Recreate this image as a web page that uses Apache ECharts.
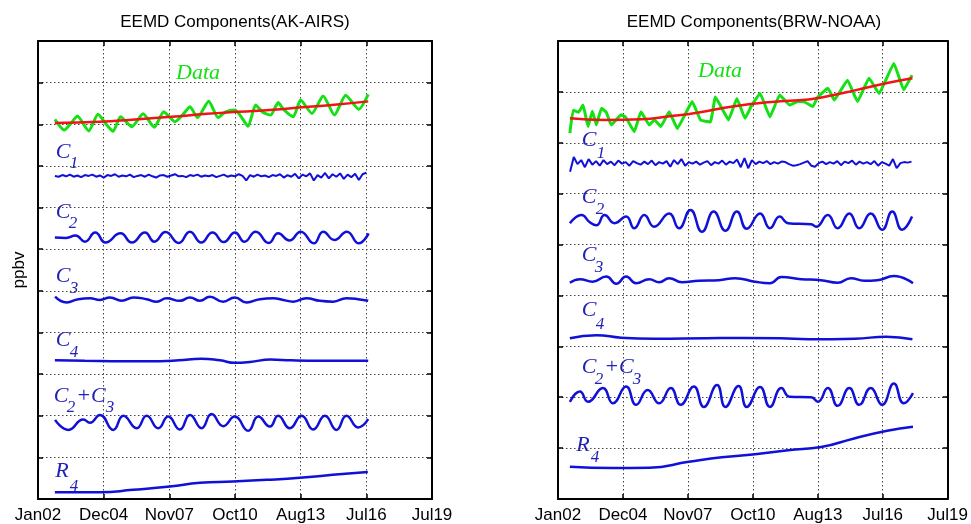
<!DOCTYPE html>
<html lang="en">
<head>
    <meta charset="UTF-8">
    <title>EEMD Components</title>
    <script src="https://cdn.jsdelivr.net/npm/echarts@6/dist/echarts.min.js"></script>
    <style>
        html, body { margin: 0; padding: 0; background: #fff; }
        #chart { width: 971px; height: 524px; }
    </style>
</head>
<body>
<div id="chart"></div>
<script>
    // x values are months counted from Jan 2002, y values are plot units (stacked components)
    var tickLabels = ['Jan02', 'Dec04', 'Nov07', 'Oct10', 'Aug13', 'Jul16', 'Jul19'];
    var TICK_STEP = 35;

    // ---------- AK-AIRS ----------
    var akData = [[9,9.12],[14,8.86],[18,9.05],[21,9.20],[27,8.84],[32,9.24],[36,9.02],[40,8.83],[44,9.18],[50,8.94],
        [56,9.25],[62,8.93],[67,9.30],[70,9.18],[73,9.06],[77,9.22],[81,9.42],[85,9.16],[91,9.55],[96,9.16],
        [100,9.30],[105,9.34],[108,9.20],[112,8.95],[116,9.46],[120,9.28],[124,9.22],[128,9.52],[131,9.35],[136,9.18],
        [140,9.58],[146,9.26],[152,9.68],[158,9.22],[164,9.70],[171,9.36],[176,9.72]];
    var akTrend = [[9,9.03],[33,9.06],[50,9.11],[71,9.18],[90,9.25],[107,9.30],[125,9.35],[139,9.40],[158,9.47],[176,9.55]];
    var akC1Start = 9;
    var akC1 = [7.76,7.74,7.78,7.75,7.79,7.74,7.77,7.73,7.78,7.76,
        7.79,7.74,7.77,7.72,7.78,7.76,7.80,7.74,7.77,7.75,
        7.79,7.73,7.76,7.78,7.74,7.79,7.75,7.72,7.77,7.78,
        7.74,7.77,7.80,7.75,7.76,7.73,7.78,7.76,7.79,7.74,
        7.77,7.75,7.78,7.73,7.76,7.79,7.74,7.77,7.75,7.80,
        7.76,7.65,7.78,7.74,7.79,7.75,7.77,7.73,7.78,7.76,
        7.80,7.72,7.78,7.74,7.81,7.70,7.79,7.75,7.82,7.65,
        7.78,7.72,7.83,7.70,7.80,7.74,7.82,7.69,7.79,7.73,
        7.81,7.66,7.80,7.84];
    var akC2 = [[9,6.28],[15,6.27],[20,6.33],[25,6.18],[30.5,6.40],[36,6.16],[44,6.38],[50,6.16],[57,6.40],[62,6.18],
        [68,6.41],[75,6.15],[81,6.42],[87,6.16],[93,6.40],[99,6.17],[105,6.40],[110,6.18],[116,6.42],[123,6.15],
        [128,6.38],[134,6.21],[140,6.42],[147,6.14],[152,6.42],[158,6.22],[164.6,6.42],[171,6.14],[176.2,6.38]];
    var akC3 = [[9.1,4.86],[15.3,4.72],[21.5,4.80],[27.7,4.82],[33,4.78],[38.4,4.84],[44.6,4.76],[50.8,4.84],[57.9,4.80],[63.2,4.74],
        [68.6,4.82],[75.6,4.76],[81,4.84],[86.3,4.76],[91.6,4.86],[98.7,4.74],[104.9,4.84],[111.2,4.72],[118.3,4.80],[125.3,4.82],
        [130.7,4.78],[136,4.74],[143.1,4.82],[150.2,4.76],[157.3,4.74],[164.4,4.82],[170.6,4.80],[176,4.76]];
    var akC4 = [[9,3.33],[25,3.32],[45,3.31],[65,3.31],[75,3.33],[87,3.37],[97,3.33],[105,3.27],[113,3.29],[124,3.35],
        [135,3.33],[150,3.32],[176,3.32]];
    var akC23 = [[9.1,1.90],[16.2,1.66],[24.1,1.91],[27.7,1.83],[33,2.02],[40.1,1.66],[45.5,2.00],[52.6,1.70],[57.9,2.00],[64.1,1.70],
        [69.4,1.98],[75.6,1.67],[81,2.02],[87.2,1.70],[92.5,2.04],[98.7,1.75],[104.9,1.98],[112,1.64],[117.4,1.98],[123.6,1.74],
        [128,2.00],[134.2,1.70],[140.5,2.00],[146.7,1.67],[152.9,2.00],[159.1,1.66],[164.4,2.00],[170.6,1.72],[176,1.92]];
    var akR4 = [[9,0.16],[33,0.16],[50.6,0.22],[70.3,0.30],[86.3,0.39],[103.9,0.42],[122,0.46],[139.6,0.51],[157.1,0.58],[175.8,0.65]];

    // ---------- BRW-NOAA ----------
    var brwData = [[6.4,7.19],[8.2,7.64],[11,7.60],[13.5,7.74],[16.2,7.32],[18.5,7.62],[20.7,7.35],[23.4,7.68],[26,7.60],[28.7,7.35],
        [34,7.55],[36.5,7.50],[41.1,7.22],[44.7,7.61],[49.2,7.35],[52,7.45],[55.4,7.32],[59.9,7.61],[64.3,7.28],[68.8,7.58],
        [72.3,7.81],[76.8,7.45],[82.1,7.41],[84.8,7.90],[88,7.70],[91.9,7.45],[96.4,7.87],[100.8,7.48],[104.4,7.74],[108.9,7.97],
        [114.2,7.51],[119.5,7.94],[124.9,7.74],[129.3,7.81],[133,7.80],[137.3,7.71],[140,7.90],[145.4,8.07],[148.9,7.84],[156,8.23],
        [161.4,7.81],[167.6,8.27],[173,7.97],[181,8.56],[186.3,8.04],[190.8,8.33]];
    var brwTrend = [[6.4,7.48],[25,7.45],[45,7.46],[60,7.52],[75,7.59],[95,7.72],[115,7.80],[135,7.85],[142,7.89],[160,8.03],
        [178,8.18],[191,8.27]];
    var brwC1Start = 6.5;
    var brwC1 = [6.43,6.72,6.58,6.66,6.52,6.68,6.57,6.64,6.55,6.66,
        6.58,6.63,6.56,6.65,6.59,6.62,6.55,6.64,6.60,6.57,
        6.63,6.58,6.65,6.56,6.62,6.59,6.64,6.53,6.66,6.58,
        6.68,6.55,6.62,6.59,6.63,6.57,6.61,6.64,6.56,6.62,
        6.59,6.65,6.57,6.63,6.60,6.67,6.52,6.70,6.50,6.66,
        6.58,6.63,6.60,6.64,6.58,6.62,6.59,6.63,6.62,6.58,
        6.55,6.56,6.58,6.61,6.64,6.55,6.53,6.60,6.63,6.58,
        6.62,6.59,6.64,6.56,6.63,6.60,6.65,6.57,6.63,6.59,
        6.62,6.58,6.64,6.55,6.62,6.59,6.55,6.68,6.50,6.60,
        6.62,6.61,6.63];
    var brwC2 = [[6.4,5.42],[12.7,5.58],[17.1,5.44],[20.7,5.38],[25.1,5.58],[30.5,5.42],[36.7,5.55],[41.1,5.32],[46.5,5.58],[51.8,5.35],
        [59.9,5.61],[65.2,5.32],[71.4,5.68],[77.6,5.25],[83.9,5.65],[90.2,5.27],[96.4,5.65],[101.7,5.31],[108.9,5.61],[114.2,5.32],
        [119.5,5.55],[124,5.42],[136.4,5.40],[139.1,5.35],[145.4,5.58],[150.7,5.32],[157,5.61],[162.3,5.32],[168.5,5.61],[174.7,5.29],
        [180.1,5.65],[185.4,5.29],[190.8,5.55]];
    var brwC3 = [[6.4,4.25],[11.8,4.32],[18.7,4.27],[26,4.37],[31.4,4.23],[36.7,4.37],[42.1,4.24],[49.2,4.32],[54.5,4.26],[59.9,4.34],
        [66.8,4.26],[75.9,4.29],[86.6,4.30],[95.5,4.34],[106.2,4.27],[114.2,4.24],[120.4,4.36],[131.1,4.32],[141.6,4.30],[150.7,4.25],
        [157.8,4.34],[165,4.29],[172.1,4.30],[181,4.38],[191.3,4.24]];
    var brwC4 = [[6.4,3.16],[20.7,3.22],[34,3.17],[52,3.15],[80,3.16],[100,3.165],[120,3.16],[135,3.14],[160,3.15],[177,3.19],[191,3.14]];
    var brwC23 = [[6.4,1.91],[11.8,2.11],[16.2,1.91],[24.2,2.18],[29.6,1.88],[36.7,2.21],[42.1,1.85],[48.3,2.14],[54.5,1.88],[60.8,2.18],
        [66.1,1.85],[73.2,2.21],[78.6,1.81],[85.7,2.24],[90.2,1.81],[97.3,2.22],[101.7,1.81],[108.9,2.20],[114.2,1.81],[120.4,2.18],
        [124.9,2.01],[136.4,2.00],[140,1.91],[145.4,2.18],[150.7,1.83],[157,2.18],[162.3,1.85],[168.5,2.18],[174.7,1.85],[181,2.27],
        [186.3,1.88],[191.3,2.08]];
    var brwR4 = [[6.4,0.635],[29.6,0.61],[49.2,0.615],[70.5,0.73],[88.3,0.82],[106.2,0.88],[124,0.96],[141.8,1.02],[159.6,1.19],[177.4,1.34],[191.3,1.42]];

    function stepPairs(start, vals) {
        return vals.map(function (v, i) { return [start + 2 * i, v]; });
    }

    var GREEN = '#14e014', RED = '#f01414', BLUE = '#1010d8', LABEL_BLUE = '#2222b8';

    function xAx(g, pos) {
        var bottom = pos === 'bottom';
        return {
            type: 'value', gridIndex: g, position: pos, min: 0, max: 210, interval: TICK_STEP,
            axisLine: {show: true, onZero: false, lineStyle: {color: '#000', width: 2}},
            axisTick: {show: true, inside: true, length: 5, lineStyle: {color: '#000', width: 1.5}},
            axisLabel: bottom ? {
                show: true, margin: 8, color: '#000', fontSize: 17, fontFamily: 'Liberation Sans',
                showMinLabel: true, showMaxLabel: true,
                formatter: function (v) { return tickLabels[Math.round(v / TICK_STEP)]; }
            } : {show: false},
            splitLine: bottom ? {show: true, lineStyle: {color: '#444', type: [1.5, 2.5], width: 1}} : {show: false}
        };
    }

    function yAx(g, pos, max) {
        var left = pos === 'left';
        return {
            type: 'value', gridIndex: g, position: pos, min: 0, max: max, interval: 1,
            axisLine: {show: true, onZero: false, lineStyle: {color: '#000', width: 2}},
            axisTick: {show: true, inside: true, length: 5, lineStyle: {color: '#000', width: 1.5}},
            axisLabel: {show: false},
            splitLine: left ? {show: true, lineStyle: {color: '#444', type: [1.5, 2.5], width: 1}} : {show: false}
        };
    }

    function line(g, data, color, width, smooth) {
        return {
            type: 'line', xAxisIndex: 2 * g, yAxisIndex: 2 * g, data: data,
            symbol: 'none', smooth: smooth, silent: true,
            lineStyle: {color: color, width: width}
        };
    }

    function txt(x, y, s, size, color) {
        return {
            type: 'text', x: x, y: y, silent: true,
            style: {
                text: s, fill: color, fontSize: size, fontFamily: 'Liberation Serif', fontStyle: 'italic',
                align: 'center', verticalAlign: 'middle'
            }
        };
    }

    function plain(x, y, s, rot) {
        return {
            type: 'text', x: x, y: y, rotation: rot || 0, silent: true,
            style: {
                text: s, fill: '#000', fontSize: 17, fontFamily: 'Liberation Sans',
                align: 'center', verticalAlign: 'middle'
            }
        };
    }

    var myChart = echarts.init(document.getElementById('chart'));

    var option = {
        animation: false,
        grid: [
            {left: 38, top: 41, width: 394, height: 458},
            {left: 558, top: 41, width: 393, height: 458}
        ],
        xAxis: [xAx(0, 'bottom'), xAx(0, 'top'), xAx(1, 'bottom'), xAx(1, 'top')],
        yAxis: [yAx(0, 'left', 11), yAx(0, 'right', 11), yAx(1, 'left', 9), yAx(1, 'right', 9)],
        series: [
            line(0, akData, GREEN, 3, 0.2),
            line(0, akTrend, RED, 2.5, true),
            line(0, stepPairs(akC1Start, akC1), BLUE, 2, false),
            line(0, akC2, BLUE, 2.5, 0.5),
            line(0, akC3, BLUE, 2.5, 0.5),
            line(0, akC4, BLUE, 2.5, true),
            line(0, akC23, BLUE, 2.5, 0.5),
            line(0, akR4, BLUE, 2.5, true),

            line(1, brwData, GREEN, 3, 0.1),
            line(1, brwTrend, RED, 2.5, true),
            line(1, stepPairs(brwC1Start, brwC1), BLUE, 2, false),
            line(1, brwC2, BLUE, 2.5, 0.5),
            line(1, brwC3, BLUE, 2.5, 0.5),
            line(1, brwC4, BLUE, 2.5, true),
            line(1, brwC23, BLUE, 2.5, 0.5),
            line(1, brwR4, BLUE, 2.5, true)
        ],
        graphic: [
            plain(235, 22, 'EEMD Components(AK-AIRS)'),
            plain(754, 22, 'EEMD Components(BRW-NOAA)'),
            plain(19, 270, 'ppbv', Math.PI / 2),

            // left panel labels
            txt(198, 73, 'Data', 22, GREEN),
            txt(63, 152, 'C', 22, LABEL_BLUE), txt(74, 164, '1', 17, LABEL_BLUE),
            txt(63, 212, 'C', 22, LABEL_BLUE), txt(73, 224, '2', 17, LABEL_BLUE),
            txt(63, 276, 'C', 22, LABEL_BLUE), txt(74, 289, '3', 17, LABEL_BLUE),
            txt(63, 340, 'C', 22, LABEL_BLUE), txt(74, 353, '4', 17, LABEL_BLUE),
            txt(61, 396, 'C', 22, LABEL_BLUE), txt(71, 408, '2', 17, LABEL_BLUE),
            txt(91, 396, '+C', 22, LABEL_BLUE), txt(110, 408, '3', 17, LABEL_BLUE),
            txt(62, 471, 'R', 22, LABEL_BLUE), txt(74, 487, '4', 17, LABEL_BLUE),

            // right panel labels
            txt(720, 71, 'Data', 22, GREEN),
            txt(589, 140, 'C', 22, LABEL_BLUE), txt(601, 154, '1', 17, LABEL_BLUE),
            txt(589, 197, 'C', 22, LABEL_BLUE), txt(600, 210, '2', 17, LABEL_BLUE),
            txt(589, 255, 'C', 22, LABEL_BLUE), txt(599, 268, '3', 17, LABEL_BLUE),
            txt(589, 310, 'C', 22, LABEL_BLUE), txt(600, 325, '4', 17, LABEL_BLUE),
            txt(589, 367, 'C', 22, LABEL_BLUE), txt(599, 380, '2', 17, LABEL_BLUE),
            txt(619, 367, '+C', 22, LABEL_BLUE), txt(637, 380, '3', 17, LABEL_BLUE),
            txt(583, 445, 'R', 22, LABEL_BLUE), txt(595, 458, '4', 17, LABEL_BLUE)
        ]
    };

    myChart.setOption(option);
</script>
</body>
</html>
